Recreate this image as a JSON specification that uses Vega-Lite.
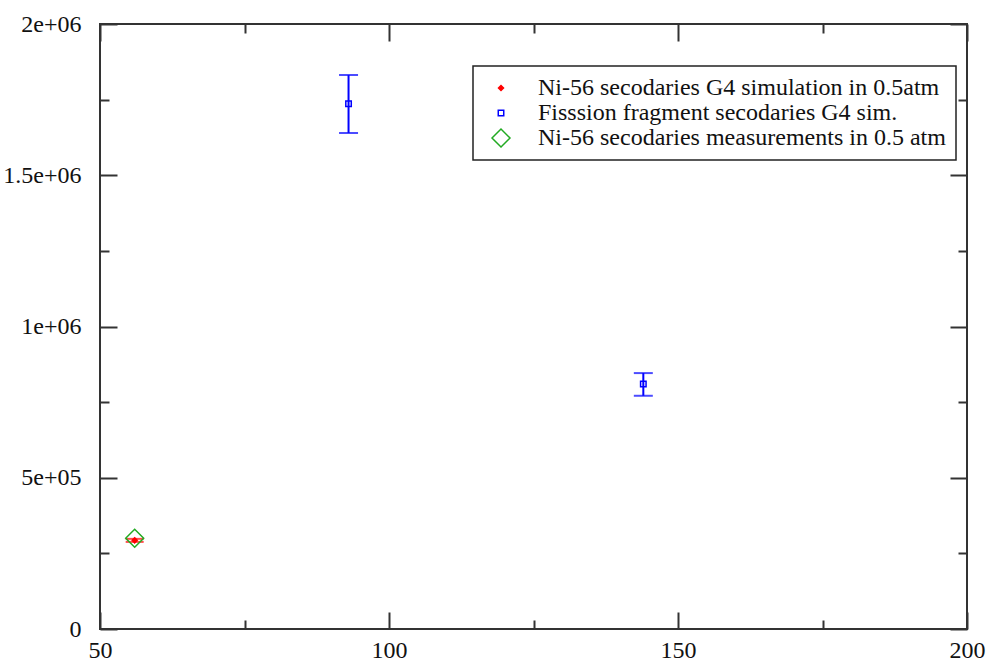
{
  "$schema": "https://vega.github.io/schema/vega-lite/v6.json",
  "width": 867,
  "height": 605,
  "autosize": {"type": "none"},
  "padding": {"left": 100, "top": 24, "right": 23, "bottom": 33},
  "background": "white",
  "config": {
    "view": {"stroke": "#333333", "strokeWidth": 2},
    "font": "Liberation Serif",
    "axis": {"grid": false, "domain": false, "labelFlush": false, "labelOverlap": false, "tickColor": "#333333", "tickWidth": 2, "labelFont": "Liberation Serif", "labelFontSize": 24, "labelColor": "#111111", "title": null},
    "legend": {
      "orient": "none", "legendX": 373, "legendY": 42,
      "strokeColor": "#222222", "strokeWidth": 1.5, "fillColor": "white",
      "padding": 10, "labelFont": "Liberation Serif", "labelFontSize": 24,
      "labelColor": "#111111", "labelLimit": 0, "rowPadding": 1,
      "symbolStrokeWidth": 1.5, "labelOffset": 25, "symbolOffset": 6
    }
  },
  "data": {
    "values": [
      {"series": "Ni-56 secodaries G4 simulation in 0.5atm", "x": 56, "y": 293000, "lo": 288000, "hi": 298000},
      {"series": "Fisssion fragment secodaries G4 sim.", "x": 93, "y": 1736000, "lo": 1640000, "hi": 1831000},
      {"series": "Fisssion fragment secodaries G4 sim.", "x": 144, "y": 810000, "lo": 771000, "hi": 846000},
      {"series": "Ni-56 secodaries measurements in 0.5 atm", "x": 56, "y": 300000}
    ]
  },
  "layer": [
    {
      "transform": [{"filter": "datum.series == 'Fisssion fragment secodaries G4 sim.'"}],
      "mark": {"type": "rule", "strokeWidth": 2, "color": "#0000ff"},
      "encoding": {
        "x": {"field": "x", "type": "quantitative", "scale": {"domain": [50, 200], "nice": false, "zero": false},
          "axis": {"orient": "top", "labels": false, "values": [50, 75, 100, 125, 150, 175, 200],
            "tickSize": {"condition": {"test": "datum.value % 50 === 0", "value": -17}, "value": -9}}},
        "y": {"field": "lo", "type": "quantitative", "scale": {"domain": [0, 2000000], "nice": false},
          "axis": {"orient": "right", "labels": false, "values": [0, 250000, 500000, 750000, 1000000, 1250000, 1500000, 1750000, 2000000],
            "tickSize": {"condition": {"test": "datum.value % 500000 === 0", "value": -17}, "value": -9}}},
        "y2": {"field": "hi"}
      }
    },
    {
      "transform": [{"filter": "datum.series == 'Fisssion fragment secodaries G4 sim.'"}],
      "mark": {"type": "tick", "orient": "horizontal", "size": 19, "thickness": 2, "color": "#0000ff"},
      "encoding": {
        "x": {"field": "x", "type": "quantitative", "axis": null},
        "y": {"field": "lo", "type": "quantitative", "axis": null}
      }
    },
    {
      "transform": [{"filter": "datum.series == 'Fisssion fragment secodaries G4 sim.'"}],
      "mark": {"type": "tick", "orient": "horizontal", "size": 19, "thickness": 2, "color": "#0000ff"},
      "encoding": {
        "x": {"field": "x", "type": "quantitative", "axis": null},
        "y": {"field": "hi", "type": "quantitative", "axis": null}
      }
    },
    {
      "transform": [{"filter": "datum.series == 'Ni-56 secodaries G4 simulation in 0.5atm'"}],
      "mark": {"type": "tick", "orient": "horizontal", "size": 18, "thickness": 2, "color": "#ff0000"},
      "encoding": {
        "x": {"field": "x", "type": "quantitative", "axis": null},
        "y": {"field": "lo", "type": "quantitative", "axis": null}
      }
    },
    {
      "transform": [{"filter": "datum.series == 'Ni-56 secodaries G4 simulation in 0.5atm'"}],
      "mark": {"type": "tick", "orient": "horizontal", "size": 18, "thickness": 2, "color": "#ff0000"},
      "encoding": {
        "x": {"field": "x", "type": "quantitative", "axis": null},
        "y": {"field": "hi", "type": "quantitative", "axis": null}
      }
    },
    {
      "mark": {"type": "point", "filled": false, "strokeWidth": 1.5, "opacity": 1},
      "encoding": {
        "x": {"field": "x", "type": "quantitative",
          "axis": {"orient": "bottom", "values": [50, 75, 100, 125, 150, 175, 200],
            "labelExpr": "datum.value % 50 === 0 ? datum.label : ''", "labelPadding": 26,
            "tickSize": {"condition": {"test": "datum.value % 50 === 0", "value": -17}, "value": -9}}},
        "y": {"field": "y", "type": "quantitative",
          "axis": {"orient": "left", "values": [0, 250000, 500000, 750000, 1000000, 1250000, 1500000, 1750000, 2000000],
            "labelExpr": "datum.value == 0 ? '0' : datum.value == 500000 ? '5e+05' : datum.value == 1000000 ? '1e+06' : datum.value == 1500000 ? '1.5e+06' : datum.value == 2000000 ? '2e+06' : ''",
            "labelPadding": 36,
            "tickSize": {"condition": {"test": "datum.value % 500000 === 0", "value": -17}, "value": -9}}},
        "color": {"field": "series", "type": "nominal", "title": null,
          "scale": {"domain": ["Ni-56 secodaries G4 simulation in 0.5atm", "Fisssion fragment secodaries G4 sim.", "Ni-56 secodaries measurements in 0.5 atm"], "range": ["#ff0000", "#0000ff", "#22aa22"]}},
        "shape": {"field": "series", "type": "nominal", "title": null,
          "scale": {"domain": ["Ni-56 secodaries G4 simulation in 0.5atm", "Fisssion fragment secodaries G4 sim.", "Ni-56 secodaries measurements in 0.5 atm"], "range": ["diamond", "square", "diamond"]}},
        "size": {"field": "series", "type": "ordinal", "title": null,
          "scale": {"type": "ordinal", "domain": ["Ni-56 secodaries G4 simulation in 0.5atm", "Fisssion fragment secodaries G4 sim.", "Ni-56 secodaries measurements in 0.5 atm"], "range": [25, 30, 324]}},
        "fill": {"field": "series", "type": "nominal", "title": null,
          "scale": {"domain": ["Ni-56 secodaries G4 simulation in 0.5atm", "Fisssion fragment secodaries G4 sim.", "Ni-56 secodaries measurements in 0.5 atm"], "range": ["#ff0000", "rgba(0,0,0,0)", "rgba(0,0,0,0)"]}}
      }
    }
  ]
}
